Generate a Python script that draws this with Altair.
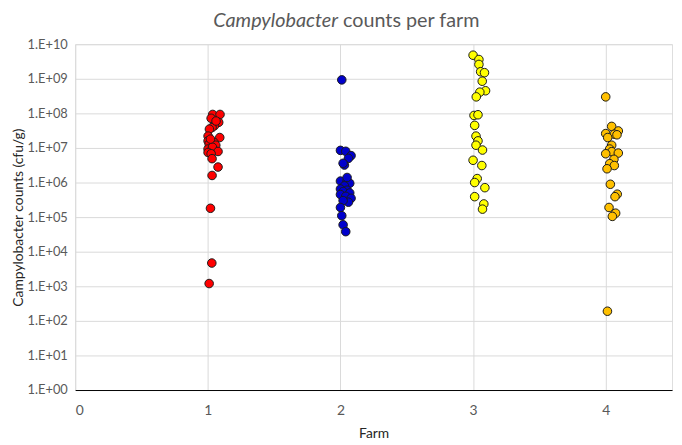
import altair as alt
import pandas as pd

# Farm 1 (red)
farm1_x = [1.037, 1.092, 1.025, 1.082, 1.05, 1.032, 1.012, 1.002, 1.09, 1.002, 1.047, 1.01, 1.06,
           1.002, 1.035, 1.077, 1.002, 1.025, 1.032, 1.077, 1.032, 1.02, 1.03, 1.01, 1.062, 1.02]
farm1_y = [9.3e7, 9.3e7, 7.2e7, 5.5e7, 4.4e7, 3.9e7, 3.5e7, 2.2e7, 2.0e7, 1.6e7, 1.45e7, 1.3e7, 1.2e7,
           9.3e6, 1.05e7, 7.9e6, 7.4e6, 6.8e6, 4.9e6, 2.8e6, 1.6e6, 1.8e5, 4.7e3, 1.2e3, 6.0e7, 1.8e7]

# Farm 2 (blue)
farm2_x = [2.01, 2.0, 2.04, 2.08, 2.06, 2.03, 2.02, 2.0, 2.05, 2.07, 2.03, 2.0, 2.05, 2.02, 2.07,
           2.0, 2.04, 2.08, 2.06, 2.02, 2.0, 2.01, 2.02, 2.04, 2.05]
farm2_y = [9.3e8, 8.5e6, 8.0e6, 6.0e6, 5.0e6, 3.2e6, 3.6e6, 1.1e6, 1.1e6, 9.5e5, 8.0e5, 6.5e5, 6.0e5,
           5.5e5, 5.0e5, 4.5e5, 4.0e5, 3.5e5, 2.7e5, 3.0e5, 1.9e5, 1.1e5, 6.0e4, 3.8e4, 1.4e6]

# Farm 3 (yellow)
farm3_x = [3.00, 3.044, 3.044, 3.057, 3.086, 3.069, 3.094, 3.051, 3.024, 3.007, 3.037, 3.012, 3.022,
           3.037, 3.022, 3.071, 3.00, 3.066, 3.031, 3.012, 3.089, 3.012, 3.081, 3.071]
farm3_y = [4.8e9, 3.6e9, 2.6e9, 1.6e9, 1.5e9, 8.5e8, 4.5e8, 4.1e8, 3.0e8, 8.7e7, 9.1e7, 4.5e7, 2.2e7,
           1.6e7, 1.2e7, 8.7e6, 4.4e6, 3.1e6, 1.3e6, 1.0e6, 7.1e5, 3.9e5, 2.4e5, 1.7e5]

# Farm 4 (orange)
farm4_x = [4.0, 4.045, 4.095, 4.0, 4.065, 4.085, 4.015, 4.045, 4.03, 4.045, 4.0, 4.095, 4.062, 4.03,
           4.065, 4.01, 4.035, 4.087, 4.07, 4.025, 4.075, 4.05, 4.013]
farm4_y = [3.0e8, 4.2e7, 3.1e7, 2.6e7, 2.5e7, 2.4e7, 2.0e7, 1.2e7, 9.3e6, 7.8e6, 6.8e6, 7.1e6, 4.7e6,
           3.5e6, 3.1e6, 2.5e6, 8.9e5, 4.6e5, 3.9e5, 1.9e5, 1.3e5, 1.05e5, 1.9e2]

farms = ["1", "2", "3", "4"]
colors = ["#FF0000", "#0000CC", "#FFFF00", "#FFC000"]
x_ticks = [0, 1, 2, 3, 4]
y_ticks = [1e0, 1e1, 1e2, 1e3, 1e4, 1e5, 1e6, 1e7, 1e8, 1e9, 1e10]

rows = []
for f, xs, ys in zip(farms, [farm1_x, farm2_x, farm3_x, farm4_x], [farm1_y, farm2_y, farm3_y, farm4_y]):
    for xv, yv in zip(xs, ys):
        rows.append({"farm": f, "x": xv, "count": yv})
df = pd.DataFrame(rows)

W, H = 604, 350
FONT = "Lato"

points = alt.Chart(df).mark_circle(size=75, opacity=1, stroke="#1a1a1a", strokeWidth=1).encode(
    x=alt.X("x:Q", scale=alt.Scale(domain=[0, 4.5], nice=False, zero=False),
            axis=alt.Axis(values=x_ticks, title="Farm", format="d", ticks=False,
                          labelPadding=14, titlePadding=9, domainColor="#000000",
                          labelFontSize=14, titleFontSize=14, labelColor="#595959",
                          titleColor="#262626", gridColor="#D9D9D9", labelFont=FONT, titleFont=FONT,
                          titleFontWeight="normal")),
    y=alt.Y("count:Q", scale=alt.Scale(type="log", domain=[1, 1e10], nice=False),
            axis=alt.Axis(values=y_ticks, title="Campylobacter counts (cfu/g)", ticks=False,
                          labelExpr="'1.E+' + (round(log(datum.value)/LN10) < 10 ? '0' : '') + round(log(datum.value)/LN10)",
                          labelPadding=8, titlePadding=2, domain=False,
                          labelFontSize=13, titleFontSize=14, labelColor="#595959",
                          titleColor="#262626", gridColor="#D9D9D9", labelFont=FONT, titleFont=FONT,
                          titleFontWeight="normal")),
    color=alt.Color("farm:N", scale=alt.Scale(domain=farms, range=colors), legend=None),
)

title_df = pd.DataFrame([{"a": 1}])
title_it = alt.Chart(title_df).mark_text(
    text="Campylobacter", font=FONT, fontSize=20, fontStyle="italic", color="#595959",
    align="right", baseline="alphabetic"
).encode(x=alt.value(266), y=alt.value(-17))
title_rest = alt.Chart(title_df).mark_text(
    text="counts per farm", font=FONT, fontSize=20, color="#595959",
    align="left", baseline="alphabetic", dx=5
).encode(x=alt.value(266), y=alt.value(-17))

chart = alt.layer(points, title_it, title_rest).properties(
    width=W, height=H,
    autosize=alt.AutoSizeParams(type="none"),
    padding={"left": 68, "top": 34, "right": 2, "bottom": 53},
).configure_view(stroke="#404040", strokeWidth=1).configure(background="white")

chart.save("out.html", embed_options={"renderer": "svg", "actions": False})
